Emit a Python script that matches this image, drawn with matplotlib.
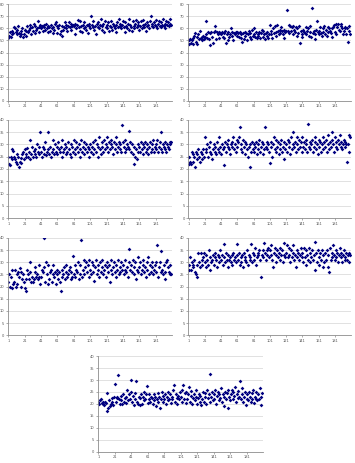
import numpy as np
import matplotlib
matplotlib.use("Agg")
import matplotlib.pyplot as plt

# values (200 samples each)
series_1 = [
    52, 54, 57, 53, 58, 55, 56, 61, 60, 57, 59, 55, 62, 56, 54, 58, 55, 60, 53, 55,
    59, 54, 58, 62, 57, 59, 63, 60, 55, 61, 58, 64, 56, 62, 59, 60, 66, 57, 61, 63,
    60, 62, 58, 63, 61, 59, 64, 60, 57, 62, 61, 58, 63, 60, 56, 61, 59, 64, 65, 62,
    56, 60, 63, 55, 58, 62, 54, 59, 61, 65, 60, 63, 58, 62, 65, 61, 64, 59, 62, 63,
    62, 55, 64, 60, 63, 67, 61, 58, 66, 62, 57, 63, 60, 65, 61, 59, 63, 56, 62, 64,
    60, 70, 63, 61, 66, 59, 62, 55, 64, 61, 65, 60, 63, 68, 62, 59, 64, 57, 66, 61,
    63, 60, 65, 58, 62, 66, 61, 59, 64, 62, 60, 63, 57, 65, 61, 68, 62, 64, 60, 63,
    66, 61, 57, 65, 62, 60, 64, 68, 59, 63, 61, 58, 66, 62, 60, 64, 67, 61, 63, 65,
    59, 62, 66, 60, 63, 67, 61, 64, 58, 65, 62, 63, 60, 66, 70, 62, 64, 61, 65, 63,
    62, 67, 60, 64, 66, 62, 65, 61, 63, 68, 62, 64, 60, 66, 63, 65, 62, 68, 64, 63,
]
series_2 = [
    47, 50, 51, 48, 50, 47, 52, 54, 56, 49, 53, 47, 55, 51, 58, 52, 50, 53, 54, 51,
    53, 55, 66, 52, 57, 51, 56, 46, 57, 53, 48, 57, 62, 58, 51, 57, 55, 52, 57, 56,
    55, 57, 53, 56, 52, 58, 48, 55, 50, 57, 53, 55, 60, 54, 57, 50, 56, 55, 57, 54,
    57, 56, 53, 57, 55, 52, 49, 56, 51, 57, 54, 56, 50, 55, 58, 53, 56, 51, 59, 54,
    60, 55, 53, 57, 52, 55, 54, 57, 52, 56, 59, 53, 58, 55, 51, 56, 54, 57, 52, 55,
    63, 55, 58, 52, 60, 56, 62, 54, 57, 63, 58, 55, 59, 56, 61, 58, 55, 59, 52, 57,
    58, 75, 58, 63, 56, 62, 58, 61, 55, 62, 59, 57, 61, 54, 60, 56, 62, 48, 58, 55,
    53, 59, 57, 56, 61, 55, 58, 60, 54, 57, 62, 53, 77, 56, 58, 51, 55, 59, 66, 57,
    55, 58, 61, 56, 54, 60, 57, 62, 55, 59, 54, 61, 57, 60, 58, 56, 60, 53, 61, 63,
    57, 64, 55, 61, 64, 59, 58, 62, 64, 60, 55, 58, 61, 60, 55, 60, 49, 58, 62, 55,
]
series_3 = [
    25, 22, 21.5, 25, 24, 28, 27.5, 25, 24, 23, 22, 26, 25, 21, 23, 24.5, 22.5, 26, 27, 24,
    28, 25, 26, 28.5, 25, 27, 32, 24, 26, 29, 25, 27.5, 26, 28, 25, 30, 27, 26, 29, 35,
    27, 25, 29, 26, 28, 31, 25.5, 27, 28, 35, 26, 29, 25, 27, 32, 28, 26, 30, 27, 29,
    26, 31, 28, 27, 29, 25, 32, 27, 28, 30, 26, 29, 27, 31, 28, 26, 30, 25, 29, 27,
    32, 28, 26, 31, 29, 27, 30, 25, 28, 32, 27, 29, 26, 31, 28, 30, 27, 29, 25, 28,
    30, 27, 29, 26, 31, 28, 32, 27, 30, 25, 29, 33, 28, 26, 31, 29, 27, 32, 28, 30,
    29, 33, 27, 31, 28, 30, 32, 29, 26, 31, 28, 33, 30, 27, 29, 31, 28, 30, 27, 38,
    31, 29, 27, 32, 28, 30, 29, 35.5, 28, 31, 27, 30, 26, 29, 22, 25, 28, 24, 30, 27,
    29, 27, 31, 28, 30, 26, 29, 31, 27, 30, 28, 26, 29, 31, 27, 30, 28, 32, 27, 29,
    30, 28, 32, 27, 29, 31, 28, 35, 27, 30, 29, 28, 31, 27, 30, 29, 28, 31, 30, 31,
]
series_4 = [
    22, 25, 23, 22, 27, 26, 23, 25, 21, 27, 24, 26, 28, 25, 23, 27, 24, 26, 28, 25,
    33, 28, 27, 30, 25, 29, 27, 31, 26, 24, 28, 30, 27, 29, 26, 31, 28, 33, 27, 29,
    26, 30, 28, 29, 21.5, 31, 27, 30, 29, 32, 28, 26, 30, 29, 31, 33, 28, 30, 27, 32,
    29, 31, 33, 37, 28, 30, 27, 32, 29, 31, 26, 30, 28, 25, 29, 21, 30, 27, 31, 28,
    30, 27, 29, 31, 26, 30, 28, 32, 27, 29, 31, 26, 30, 28, 37, 29, 31, 28, 30, 27,
    22.5, 29, 31, 25, 30, 33, 28, 32, 27, 29, 31, 26, 30, 28, 32, 27, 29, 24, 31, 28,
    30, 27, 32, 29, 31, 26, 33, 28, 30, 35, 29, 31, 27, 33, 30, 28, 32, 29, 31, 27,
    33, 29, 31, 28, 30, 32, 27, 38.5, 29, 31, 28, 30, 32, 27, 29, 31, 33, 28, 30, 26,
    32, 29, 31, 27, 30, 33, 28, 31, 29, 32, 27, 30, 34, 28, 31, 29, 32, 35, 30, 27,
    33, 29, 31, 28, 32, 30, 34, 29, 31, 28, 30, 32, 29, 31, 30, 23, 30, 34, 27, 33,
]
series_5 = [
    22, 25, 20, 24, 19.5, 27, 21, 22, 27, 20, 21, 25, 26, 24, 27.5, 20, 26, 23, 25, 22,
    19.5, 18, 23, 27, 25, 23, 26, 30, 22, 24, 22, 23, 26, 28, 24, 25, 23, 29, 24, 21,
    24, 27, 26, 40, 28, 22, 30, 25, 21, 29, 23, 26, 27, 22, 25, 29, 24, 26, 21, 27,
    25, 23, 26, 22, 18, 27, 24, 25, 28, 23, 26, 29, 24, 25, 27, 28, 23, 26, 24, 32.5,
    25, 29, 24, 27, 26, 30, 23, 29, 25, 39, 24, 27, 31, 25, 28, 30, 26, 29, 24, 31,
    27, 25, 30, 26, 29, 22.5, 28, 31, 25, 27, 29, 24, 30, 26, 28, 31, 25, 27, 29, 24,
    28, 30, 26, 29, 22, 27, 31, 25, 28, 30, 26, 24, 29, 27, 31, 25, 28, 26, 30, 27,
    29, 25, 27, 31, 26, 28, 24, 30, 35.5, 27, 29, 26, 31, 25, 28, 30, 23, 27, 32, 26,
    28, 30, 25, 27, 31, 29, 26, 28, 24, 30, 27, 32, 25, 29, 26, 28, 30, 25, 27, 29,
    26, 30, 37, 24, 28, 30, 26, 34.5, 27, 25, 29, 23, 26, 30, 31, 28, 26, 25, 29, 25,
]
series_6 = [
    27, 29, 32, 27, 30, 29, 28, 31, 26, 25, 24, 29, 34, 30, 28, 34, 31, 29, 32, 34,
    30, 28, 33, 31, 29, 35, 27, 32, 30, 31, 33, 29, 32, 34, 31, 28, 33, 30, 32, 35,
    31, 33, 29, 37.5, 32, 30, 34, 31, 28, 33, 31, 32, 30, 33, 29, 34, 31, 32, 30, 37.5,
    33, 31, 34, 29, 32, 30, 33, 28, 34, 31, 32, 30, 35, 29, 33, 31, 32, 37.5, 30, 34,
    33, 31, 36, 29, 32, 34, 33, 35, 31, 24, 33, 35, 32, 38, 34, 31, 35, 33, 36, 32,
    35, 33, 37, 31, 28, 34, 36, 33, 30, 35, 32, 34, 31, 36, 33, 35, 30, 33, 38, 32,
    34, 37, 32, 36, 33, 30, 35, 32, 34, 37, 31, 33, 28, 35, 32, 34, 31, 33, 36, 32,
    34, 30, 36, 32, 35, 29, 33, 31, 36, 30, 34, 32, 35, 31, 33, 38.5, 27, 34, 30, 35,
    32, 29, 34, 31, 35, 28, 33, 30, 34, 31, 35, 28, 33, 26, 36, 31, 34, 32, 37, 33,
    31, 35, 32, 34, 30, 33, 36, 32, 34, 30, 33, 35, 31, 32, 34, 31, 33, 30, 34, 33,
]
series_7 = [
    21, 20, 21.5, 22, 20.5, 21, 20, 19.5, 21, 20.5, 17, 24.5, 18.5, 21.5, 19, 20, 22.5, 21, 19.5, 23,
    28.5, 21, 22.5, 23, 32, 22, 20, 21.5, 23.5, 20, 24, 21, 22.5, 20.5, 23, 26, 21.5, 24, 22, 30,
    25, 21, 23.5, 19.5, 22, 24.5, 29.5, 21, 20, 23, 19.5, 22.5, 24, 20, 23, 21.5, 25, 22, 24, 27.5,
    20.5, 22, 24, 21, 23, 22.5, 20, 24, 21.5, 23, 19, 22, 24.5, 21, 23, 18.5, 22, 25, 21, 23.5,
    22, 24, 20, 23, 21.5, 25, 22, 24, 20.5, 23, 22, 26, 28, 21, 24, 22.5, 20, 23.5, 22, 25,
    23, 21, 26, 28, 22, 24.5, 20.5, 25, 22, 24, 27, 21, 23.5, 25.5, 20, 22.5, 24, 21.5, 26, 23,
    20, 22.5, 24, 21, 23.5, 19.5, 22, 25, 21, 23, 24.5, 20, 26, 22.5, 24, 21, 32.5, 23, 25, 21.5,
    24, 22, 26, 20, 23.5, 25, 21.5, 24, 22.5, 26.5, 21, 24, 23, 19, 25, 22, 24.5, 18.5, 26, 23,
    21.5, 24, 26, 22, 25, 23.5, 27, 21, 24, 22.5, 25.5, 23, 29.5, 22, 24, 26.5, 21, 23, 25, 19.5,
    22, 24, 21.5, 25, 23, 21, 24.5, 22, 26, 20.5, 23, 22, 25, 21.5, 24, 22, 26.5, 19.5, 23, 24.5,
]

all_series = [series_1, series_2, series_3, series_4, series_5, series_6, series_7]
y_max = [80, 80, 40, 40, 40, 40, 40]
y_step = [10, 10, 5, 5, 5, 5, 5]
x_labels = [1, 21, 41, 61, 81, 101, 121, 141, 161, 181]

# axes rectangles in figure fractions (left, bottom, width, height)
boxes = [
    (0.0225, 0.782, 0.462, 0.209),
    (0.530, 0.782, 0.459, 0.209),
    (0.0225, 0.529, 0.462, 0.212),
    (0.530, 0.529, 0.459, 0.212),
    (0.0225, 0.276, 0.462, 0.210),
    (0.530, 0.276, 0.459, 0.210),
    (0.276, 0.024, 0.465, 0.207),
]

fig = plt.figure(figsize=(3.55, 4.63), dpi=100)

for vals, top, step, box in zip(all_series, y_max, y_step, boxes):
    ax = fig.add_axes(box)
    x = np.arange(1, len(vals) + 1)
    ax.plot(x, vals, linestyle="none", marker="D", markersize=1.9,
            color="#000080", markeredgewidth=0)

    ax.set_xlim(0.5, 201)
    ax.set_ylim(0, top)
    ax.set_yticks(np.arange(0, top + 1, step))
    ax.set_xticks(x_labels)
    ax.grid(axis="y", color="#d4d4d4", linewidth=0.5)
    ax.set_axisbelow(True)

    for side in ["top", "right"]:
        ax.spines[side].set_visible(False)
    for side in ["left", "bottom"]:
        ax.spines[side].set_color("#8c8c8c")
        ax.spines[side].set_linewidth(0.6)

    ax.tick_params(labelsize=2.6, colors="#8c8c8c", labelcolor="#555555",
                   length=1.5, width=0.5, pad=1)

fig.savefig("out.png", dpi=100, facecolor="white")
